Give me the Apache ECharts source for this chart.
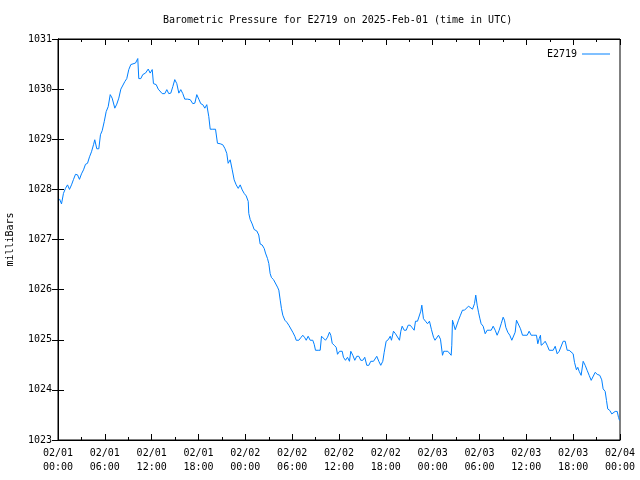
<!DOCTYPE html>
<html>
<head>
<meta charset="utf-8">
<script src="https://cdn.jsdelivr.net/npm/echarts@6/dist/echarts.min.js"></script>
<style>html,body{margin:0;padding:0;background:#fff;}#chart{width:640px;height:480px;}</style>
</head>
<body>
<div id="chart"></div>
<script>
// hours since 2025-02-01 00:00 UTC
const hours = [
0.19,0.45,0.70,0.96,1.22,1.47,1.73,1.99,2.24,2.50,2.75,3.01,3.27,3.52,3.78,4.04,4.29,4.55,4.71,4.97,
5.23,5.44,5.66,5.92,6.17,6.43,6.69,6.94,7.28,7.53,7.79,8.05,8.30,8.56,8.81,9.07,9.33,9.58,9.93,10.22,
10.35,10.61,10.86,11.21,11.56,11.81,12.07,12.23,12.58,12.84,13.09,13.35,13.68,13.94,14.19,14.45,14.71,14.96,15.22,15.48,
15.73,15.99,16.24,16.59,16.94,17.27,17.53,17.78,18.04,18.29,18.55,18.81,19.06,19.32,19.50,19.83,20.18,20.43,20.78,21.11,
21.37,21.62,21.80,22.06,22.32,22.57,22.83,23.09,23.34,23.60,23.85,24.11,24.37,24.44,24.62,24.88,25.13,25.47,25.72,25.90,
26.16,26.42,26.58,26.84,27.01,27.18,27.35,27.61,27.86,28.12,28.29,28.47,28.63,28.80,29.06,29.31,29.57,29.82,30.08,30.34,
30.52,30.85,31.10,31.36,31.62,31.80,32.05,32.31,32.64,32.82,32.99,33.33,33.59,33.76,34.01,34.27,34.53,34.78,34.95,35.13,
35.38,35.64,35.81,36.07,36.41,36.57,36.83,37.09,37.34,37.51,37.77,38.02,38.28,38.54,38.79,39.05,39.30,39.56,39.82,40.07,
40.42,40.67,40.84,41.10,41.35,41.61,41.79,42.04,42.30,42.56,42.72,42.98,43.24,43.49,43.75,43.92,44.09,44.35,44.61,44.86,
45.12,45.38,45.63,45.80,46.06,46.31,46.48,46.61,46.82,47.08,47.34,47.59,47.85,48.11,48.30,48.49,48.75,49.00,49.26,49.42,
49.68,49.94,50.19,50.37,50.45,50.54,50.71,50.89,51.14,51.31,51.56,51.82,52.08,52.33,52.59,52.84,53.10,53.36,53.52,53.70,
53.87,54.04,54.21,54.47,54.73,54.98,55.24,55.50,55.75,56.01,56.26,56.52,56.78,57.03,57.20,57.37,57.62,57.88,58.14,58.39,
58.57,58.74,58.99,59.25,59.51,59.76,60.11,60.36,60.62,60.95,61.30,61.47,61.64,61.81,61.90,62.16,62.41,62.67,62.93,63.18,
63.44,63.70,63.95,64.21,64.46,64.72,64.98,65.23,65.49,65.74,66.00,66.17,66.42,66.59,66.77,67.02,67.28,67.54,67.79,68.05,
68.31,68.56,68.82,69.08,69.41,69.66,69.84,70.10,70.27,70.43,70.69,70.95,71.13,71.38,71.64,71.81,71.94
];
const pressure = [
1027.81,1027.71,1027.92,1028.02,1028.09,1028.00,1028.09,1028.20,1028.30,1028.29,1028.20,1028.31,1028.39,1028.50,1028.52,1028.65,1028.75,1028.89,1028.99,1028.81,
1028.81,1029.09,1029.17,1029.35,1029.55,1029.65,1029.89,1029.82,1029.62,1029.70,1029.82,1030.00,1030.02,1030.15,1030.21,1030.39,1030.49,1030.50,1030.52,1030.61,
1030.21,1030.21,1030.29,1030.32,1030.40,1030.32,1030.39,1030.11,1030.09,1030.00,1029.97,1029.91,1029.91,1029.99,1029.91,1029.92,1030.05,1030.19,1030.11,1029.92,
1029.99,1029.91,1029.80,1029.80,1029.79,1029.71,1029.72,1029.89,1029.80,1029.71,1029.69,1029.62,1029.69,1029.45,1029.20,1029.20,1029.20,1028.92,1028.91,1028.89,
1028.82,1028.72,1028.52,1028.59,1028.39,1028.19,1028.09,1028.02,1028.09,1027.99,1027.92,1027.87,1027.76,1027.52,1027.40,1027.31,1027.20,1027.17,1027.09,1026.91,
1026.89,1026.82,1026.73,1026.62,1026.52,1026.32,1026.24,1026.20,1026.17,1026.05,1025.99,1025.79,1025.62,1025.49,1025.39,1025.35,1025.29,1025.27,1025.15,1025.07,
1024.99,1024.99,1025.04,1025.09,1025.04,1024.99,1025.07,1024.99,1024.99,1024.91,1024.79,1024.79,1024.79,1025.07,1025.04,1024.99,1025.05,1025.15,1025.09,1024.93,
1024.89,1024.85,1024.71,1024.77,1024.77,1024.65,1024.59,1024.65,1024.57,1024.77,1024.69,1024.59,1024.67,1024.67,1024.59,1024.59,1024.65,1024.49,1024.49,1024.57,
1024.57,1024.57,1024.67,1024.57,1024.49,1024.57,1024.75,1024.97,1025.00,1025.07,1024.99,1025.17,1025.12,1025.09,1024.99,1025.17,1025.27,1025.19,1025.19,1025.29,
1025.29,1025.24,1025.19,1025.37,1025.37,1025.39,1025.57,1025.69,1025.42,1025.37,1025.32,1025.37,1025.20,1025.05,1024.99,1024.99,1025.09,1025.01,1024.69,1024.77,
1024.77,1024.77,1024.77,1024.69,1024.89,1025.39,1025.30,1025.20,1025.20,1025.39,1025.49,1025.59,1025.59,1025.59,1025.67,1025.67,1025.61,1025.72,1025.89,1025.69,
1025.55,1025.43,1025.32,1025.27,1025.12,1025.19,1025.19,1025.19,1025.27,1025.19,1025.09,1025.19,1025.32,1025.45,1025.39,1025.25,1025.15,1025.09,1024.99,1024.99,
1025.15,1025.39,1025.39,1025.22,1025.09,1025.09,1025.09,1025.17,1025.09,1025.09,1025.09,1024.92,1025.02,1025.09,1024.89,1024.92,1024.97,1024.89,1024.79,1024.79,
1024.79,1024.87,1024.72,1024.77,1024.79,1024.97,1024.97,1024.79,1024.79,1024.79,1024.72,1024.55,1024.40,1024.45,1024.37,1024.29,1024.57,1024.49,1024.39,1024.29,
1024.19,1024.19,1024.35,1024.31,1024.29,1024.20,1024.02,1023.97,1023.79,1023.62,1023.59,1023.52,1023.49,1023.57,1023.57,1023.45,1023.39
];
const xTickLabels = ['02/01\n00:00','02/01\n06:00','02/01\n12:00','02/01\n18:00','02/02\n00:00','02/02\n06:00','02/02\n12:00','02/02\n18:00','02/03\n00:00','02/03\n06:00','02/03\n12:00','02/03\n18:00','02/04\n00:00'];
const seriesName = 'E2719';
const titleText = 'Barometric Pressure for E2719 on 2025-Feb-01 (time in UTC)';
const yName = 'milliBars';

const data = hours.map((h, i) => [h, pressure[i]]);
const FONT = 'DejaVu Sans Mono';
const chart = echarts.init(document.getElementById('chart'), null, {renderer: 'canvas'});
const axisCommon = {
  axisLine: {show: true, lineStyle: {color: '#000', width: 1}},
  splitLine: {show: false}
};
chart.setOption({
  animation: false,
  backgroundColor: '#fff',
  textStyle: {fontFamily: FONT},
  title: {
    text: titleText, left: 158, top: 10,
    textStyle: {fontFamily: FONT, fontSize: 10, fontWeight: 'normal', color: '#000'}
  },
  legend: {
    data: [{name: seriesName, icon: 'rect'}], right: 25, top: 44, align: 'right',
    itemWidth: 28, itemHeight: 1, itemGap: 0,
    itemStyle: {color: '#0080ff'},
    textStyle: {fontFamily: FONT, fontSize: 10, color: '#000'}
  },
  grid: {left: 58, right: 20, top: 39, bottom: 40, containLabel: false, outerBoundsMode: 'none',
         show: true, borderColor: '#000', borderWidth: 1},
  xAxis: [{
    type: 'value', min: 0, max: 72, interval: 6, position: 'bottom',
    ...axisCommon,
    axisTick: {show: true, inside: true, length: 6, lineStyle: {color: '#000'}},
    minorTick: {show: true, splitNumber: 2, length: 3, lineStyle: {color: '#000'}},
    axisLabel: {
      margin: 6, fontFamily: FONT, fontSize: 10, color: '#000', lineHeight: 14,
      formatter: v => xTickLabels[Math.round(v / 6)]
    }
  }, {
    type: 'value', min: 0, max: 72, interval: 6, position: 'top',
    ...axisCommon,
    axisTick: {show: true, inside: true, length: 6, lineStyle: {color: '#000'}},
    minorTick: {show: true, splitNumber: 2, length: 3, lineStyle: {color: '#000'}},
    axisLabel: {show: false}
  }],
  yAxis: [{
    type: 'value', min: 1023, max: 1031, interval: 1, position: 'left',
    name: yName, nameLocation: 'middle', nameGap: 43, nameRotate: 90,
    nameTextStyle: {fontFamily: FONT, fontSize: 10, color: '#000'},
    ...axisCommon,
    axisTick: {show: true, inside: true, length: 6, lineStyle: {color: '#000'}},
    axisLabel: {margin: 6, fontFamily: FONT, fontSize: 10, color: '#000', formatter: v => String(v)}
  }, {
    type: 'value', min: 1023, max: 1031, interval: 1, position: 'right',
    ...axisCommon,
    axisTick: {show: true, inside: true, length: 6, lineStyle: {color: '#000'}},
    axisLabel: {show: false}
  }],
  series: [{
    name: seriesName, type: 'line', xAxisIndex: 0, yAxisIndex: 0,
    data: data, showSymbol: false, symbol: 'none',
    lineStyle: {color: '#0080ff', width: 1},
    itemStyle: {color: '#0080ff'}
  }]
});
</script>
</body>
</html>
